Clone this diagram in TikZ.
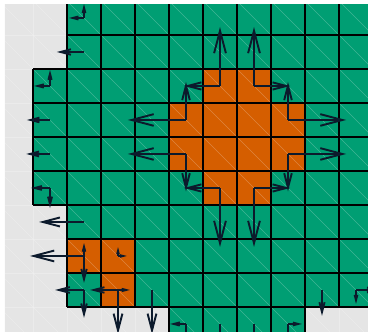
\documentclass[tikz,border=0pt]{standalone}
\usepackage{tikz}
\usetikzlibrary{arrows.meta}
\definecolor{cellgreen}{RGB}{0,158,115}
\definecolor{cellorange}{RGB}{213,94,0}
\definecolor{bggrey}{RGB}{229,229,229}
\definecolor{vecnavy}{RGB}{12,26,44}

\begin{document}
\begin{tikzpicture}[x=1cm,y=-1cm,
    cellline/.style={black, line width=2pt},
    mesh/.style={white, opacity=0.25, line width=0.4pt},
    vec/.style={vecnavy, line width=1.6pt, -{Straight Barb[length=0.38cm, width=0.2cm, scale=#1]}}]

\useasboundingbox (-0.971,-0.029) rectangle (9.853,9.735);
\clip (-0.824,0.118) rectangle (9.853,9.735);
\fill[bggrey] (-1,-1) rectangle (11,11);

% cells
\fill[cellgreen] (1,0) -- (10,0) -- (10,9) -- (8,9) -- (8,10) -- (4,10) -- (4,9) -- (1,9) -- (1,6) -- (0,6) -- (0,2) -- (1,2) -- cycle;
\fill[cellorange] (5,2) -- (7,2) -- (7,3) -- (8,3) -- (8,5) -- (7,5) -- (7,6) -- (5,6) -- (5,5) -- (4,5) -- (4,3) -- (5,3) -- cycle;
\fill[cellorange] (1,7) -- (3,7) -- (3,9) -- (2,9) -- (2,8) -- (1,8) -- cycle;

% mesh
\draw[mesh] (-1,-1) grid (11,11);
\draw[mesh] (-1,-1) -- (11,11) (0,-1) -- (11,10) (1,-1) -- (11,9) (2,-1) -- (11,8) (3,-1) -- (11,7) (4,-1) -- (11,6) (5,-1) -- (11,5) (6,-1) -- (11,4) (7,-1) -- (11,3) (8,-1) -- (11,2) (9,-1) -- (11,1);
\draw[mesh] (-1,0) -- (10,11) (-1,1) -- (9,11) (-1,2) -- (8,11) (-1,3) -- (7,11) (-1,4) -- (6,11) (-1,5) -- (5,11) (-1,6) -- (4,11) (-1,7) -- (3,11) (-1,8) -- (2,11) (-1,9) -- (1,11);

\draw[cellline] (1,0) grid (10,2);
\draw[cellline] (0,2) grid (10,6);
\draw[cellline] (1,6) grid (10,9);
\draw[cellline] (4,9) grid (8,10);

% boundary arrows
\draw[vec=0.41] (1.5,0.5) -- (1.5,0.09);
\draw[vec=0.44] (1.5,0.5) -- (1.06,0.5);
\draw[vec=0.8] (1.5,1.5) -- (0.7,1.5);
\draw[vec=0.47] (0.5,2.5) -- (0.5,2.03);
\draw[vec=0.47] (0.5,2.5) -- (0.03,2.5);
\draw[vec=0.68] (0.5,3.5) -- (-0.18,3.5);
\draw[vec=0.7] (0.5,4.5) -- (-0.2,4.5);
\draw[vec=0.56] (0.5,5.5) -- (-0.06,5.5);
\draw[vec=0.59] (0.5,5.5) -- (0.5,6.09);
\draw[vec=1.32] (1.5,6.5) -- (0.18,6.5);
\draw[vec=1.59] (1.5,7.5) -- (-0.09,7.5);
\draw[vec=0.38] (1.5,7.5) -- (1.5,7.12);
\draw[vec=0.79] (1.5,7.5) -- (1.5,8.29);
\draw[vec=0.26] (2.5,7.5) -- (2.5,7.24);
\draw[vec=0.26] (2.5,7.5) -- (2.76,7.5);
\draw[vec=0.85] (1.5,8.5) -- (0.65,8.5);
\draw[vec=0.82] (1.5,8.5) -- (1.5,9.32);
\draw[vec=0.82] (2.5,8.5) -- (1.68,8.5);
\draw[vec=0.35] (2.5,8.5) -- (2.85,8.5);
\draw[vec=1.3] (2.5,8.5) -- (2.5,9.8);
\draw[vec=1.3] (3.5,8.5) -- (3.5,9.8);
\draw[vec=0.47] (4.5,9.5) -- (4.03,9.5);
\draw[vec=0.8] (4.5,9.5) -- (4.5,10.3);
\draw[vec=0.8] (5.5,9.5) -- (5.5,10.3);
\draw[vec=0.8] (6.5,9.5) -- (6.5,10.3);
\draw[vec=0.41] (7.5,9.5) -- (7.91,9.5);
\draw[vec=0.8] (7.5,9.5) -- (7.5,10.3);
\draw[vec=0.76] (8.5,8.5) -- (8.5,9.26);
\draw[vec=0.41] (9.5,8.5) -- (9.5,8.91);
\draw[vec=0.7] (9.5,8.5) -- (10.2,8.5);

% arrows of the orange block
\draw[vec=1.735] (5.5,2.5) -- (5.5,0.765);
\draw[vec=1.06] (5.5,2.5) -- (4.44,2.5);
\draw[vec=1.735] (6.5,2.5) -- (6.5,0.765);
\draw[vec=1.06] (6.5,2.5) -- (7.56,2.5);
\draw[vec=1.71] (4.5,3.5) -- (2.79,3.5);
\draw[vec=1.12] (4.5,3.5) -- (4.5,2.38);
\draw[vec=1.71] (7.5,3.5) -- (9.21,3.5);
\draw[vec=1.12] (7.5,3.5) -- (7.5,2.38);
\draw[vec=1.71] (4.5,4.5) -- (2.79,4.5);
\draw[vec=1.12] (4.5,4.5) -- (4.5,5.6);
\draw[vec=1.71] (7.5,4.5) -- (9.21,4.5);
\draw[vec=1.12] (7.5,4.5) -- (7.5,5.6);
\draw[vec=1.06] (5.5,5.5) -- (4.44,5.5);
\draw[vec=1.735] (5.5,5.5) -- (5.5,7.235);
\draw[vec=1.06] (6.5,5.5) -- (7.56,5.5);
\draw[vec=1.735] (6.5,5.5) -- (6.5,7.235);

\end{tikzpicture}
\end{document}
